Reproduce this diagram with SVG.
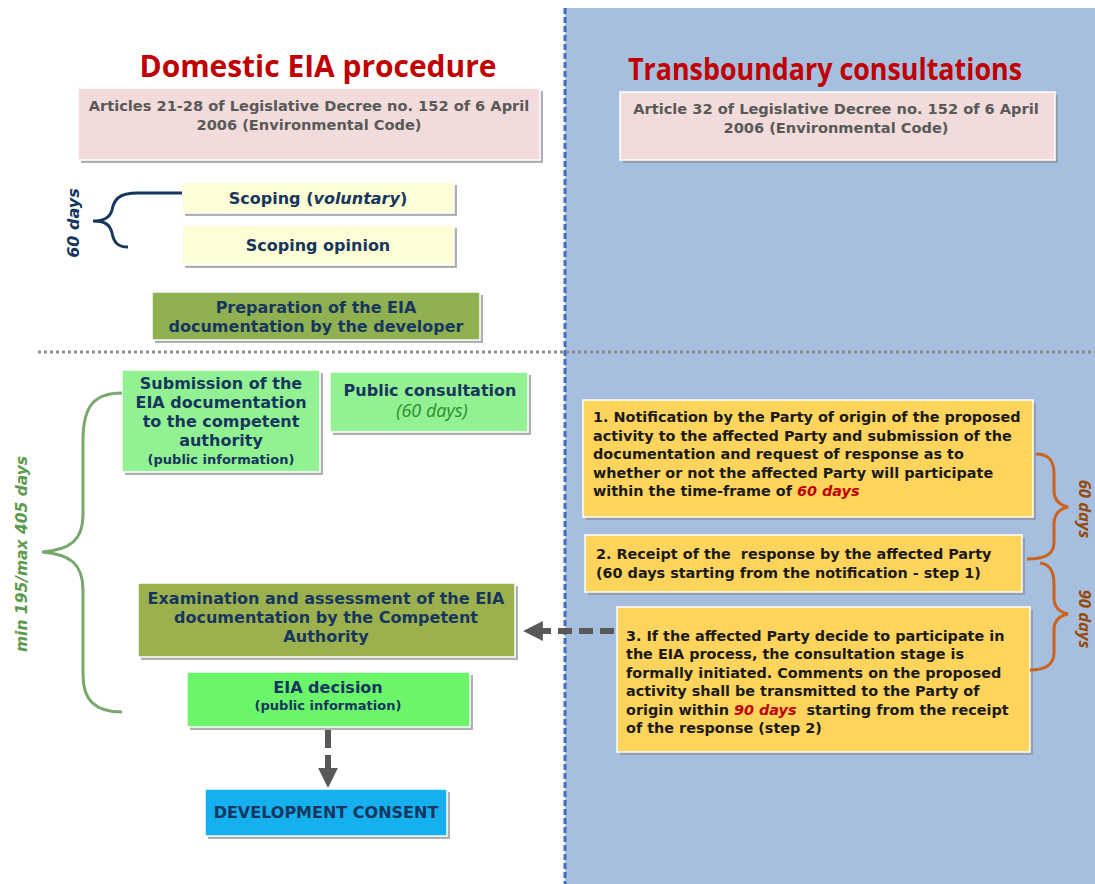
<svg xmlns="http://www.w3.org/2000/svg" width="1095" height="884" viewBox="0 0 1095 884">
<style>
.t{font-family:"DejaVu Sans","Verdana",sans-serif;font-weight:bold;fill:#17365d;text-anchor:middle}
.g{fill:#595959}
.s{font-size:13px}
.b{font-size:16px}
.title{font-family:"Open Sans","Liberation Sans",sans-serif;font-weight:bold;fill:#c00000;font-size:31px;text-anchor:middle}
.sh{fill:#8a8f96;opacity:0.7}
.box{stroke:#ffffff;stroke-width:1.5}
.lt{font-family:"DejaVu Sans","Verdana",sans-serif;font-weight:bold;fill:#1a1a1a;font-size:14.4px}
.red{fill:#c00000;font-style:italic}
.rd{font-family:"Open Sans","Liberation Sans",sans-serif;font-weight:bold;font-style:italic;font-size:16.5px;fill:#984807;text-anchor:middle}
</style>
<defs>
<marker id="ah" viewBox="0 0 10 10" refX="5" refY="5" markerWidth="3.3" markerHeight="3.3" orient="auto">
<path d="M0,0 L10,5 L0,10 z" fill="#595959"/>
</marker>
</defs>
<rect x="0" y="0" width="1095" height="884" fill="#ffffff"/>
<g id="panel">
<rect x="565" y="8" width="530" height="876" fill="#a7bfde"/>
<line x1="565" y1="8" x2="565" y2="884" stroke="#3b6fc2" stroke-width="3" stroke-dasharray="6,3"/>
</g>
<line x1="38" y1="352" x2="1095" y2="352" stroke="#8c8c8c" stroke-width="3" stroke-dasharray="3,3"/>

<text class="title" x="318" y="77" textLength="357" lengthAdjust="spacingAndGlyphs">Domestic EIA procedure</text>
<text class="title" x="825" y="80" textLength="394" lengthAdjust="spacingAndGlyphs">Transboundary consultations</text>

<g id="law-left">
<rect class="sh" x="81" y="91" width="462" height="72"/>
<rect class="box" x="78" y="88" width="462" height="72" fill="#f2dcdb"/>
<text class="t g" font-size="14.6" x="309" y="111">Articles 21-28 of Legislative Decree no. 152 of 6 April</text>
<text class="t g" font-size="14.6" x="309" y="130">2006 (Environmental Code)</text>
</g>
<g id="law-right">
<rect class="sh" x="623" y="95" width="435" height="68"/>
<rect class="box" x="620" y="92" width="435" height="68" fill="#f2dcdb"/>
<text class="t g" font-size="14.6" x="836" y="114">Article 32 of Legislative Decree no. 152 of 6 April</text>
<text class="t g" font-size="14.6" x="836" y="133">2006 (Environmental Code)</text>
</g>

<g id="scoping">
<rect class="sh" x="185" y="185" width="272" height="31"/>
<rect class="box" x="182" y="182" width="272" height="31" fill="#fdfdd6"/>
<text class="t b" x="318" y="204">Scoping (<tspan font-style="italic">voluntary</tspan>)</text>
</g>
<g id="scoping-opinion">
<rect class="sh" x="185" y="228" width="272" height="40"/>
<rect class="box" x="182" y="225" width="272" height="40" fill="#fdfdd6"/>
<text class="t b" x="318" y="251">Scoping opinion</text>
</g>
<g id="brace-60">
<path d="M182,193 L138,193 C118,193 114,200 112,210 C110,218 104,221 93,221 C104,221 110,224 112,233 C114,243 118,247 128,247" fill="none" stroke="#17365d" stroke-width="3"/>
<text class="t b" font-style="italic" transform="translate(79,223) rotate(-90)">60 days</text>
</g>

<g id="preparation">
<rect class="sh" x="155" y="295" width="328" height="48"/>
<rect class="box" x="152" y="292" width="328" height="48" fill="#8fb152"/>
<text class="t b" x="316" y="313">Preparation of the EIA</text>
<text class="t b" x="316" y="332">documentation by the developer</text>
</g>

<g id="submission">
<rect class="sh" x="125" y="373" width="198" height="102"/>
<rect class="box" x="122" y="370" width="198" height="102" fill="#92f192"/>
<text class="t b" x="221" y="389">Submission of the</text>
<text class="t b" x="221" y="408">EIA documentation</text>
<text class="t b" x="221" y="427">to the competent</text>
<text class="t b" x="221" y="446">authority</text>
<text class="t s" x="221" y="464">(public information)</text>
</g>
<g id="public-consultation">
<rect class="sh" x="333" y="375" width="198" height="60"/>
<rect class="box" x="330" y="372" width="198" height="60" fill="#92f192"/>
<text class="t b" x="430" y="396">Public consultation</text>
<text x="432" y="417" font-family="Open Sans, Liberation Sans, sans-serif" font-style="italic" font-size="18" fill="#2e8b2e" text-anchor="middle">(60 days)</text>
</g>

<g id="brace-min-max">
<path d="M122,393 C95,393 83,405 83,440 L83,515 C83,540 70,550 42,552 C70,554 83,564 83,590 L83,675 C83,700 95,712 122,712" fill="none" stroke="#78a86e" stroke-width="3"/>
<text transform="translate(27,554) rotate(-90)" font-family="DejaVu Sans, Verdana, sans-serif" font-weight="bold" font-style="italic" font-size="15.5" fill="#5c9a4c" text-anchor="middle">min 195/max 405 days</text>
</g>

<g id="examination">
<rect class="sh" x="141" y="586" width="377" height="74"/>
<rect class="box" x="138" y="583" width="377" height="74" fill="#9db04e"/>
<text class="t b" x="326" y="604">Examination and assessment of the EIA</text>
<text class="t b" x="326" y="623">documentation by the Competent</text>
<text class="t b" x="326" y="642">Authority</text>
</g>

<g id="eia-decision">
<rect class="sh" x="190" y="675" width="283" height="55"/>
<rect class="box" x="187" y="672" width="283" height="55" fill="#6af56a"/>
<text class="t b" x="328" y="693">EIA decision</text>
<text class="t s" x="328" y="710">(public information)</text>
</g>

<g id="development-consent">
<rect class="sh" x="208" y="792" width="242" height="47"/>
<rect class="box" x="205" y="789" width="242" height="47" fill="#16b0ee"/>
<text class="t b" x="326" y="818">DEVELOPMENT CONSENT</text>
</g>

<g id="step1">
<rect class="sh" x="586" y="403" width="450" height="117"/>
<rect class="box" x="583" y="400" width="450" height="117" fill="#fed45d"/>
<text class="lt" x="593" y="422">1. Notification by the Party of origin of the proposed</text>
<text class="lt" x="593" y="441">activity to the affected Party and submission of the</text>
<text class="lt" x="593" y="459">documentation and request of response as to</text>
<text class="lt" x="593" y="478">whether or not the affected Party will participate</text>
<text class="lt" x="593" y="496">within the time-frame of <tspan class="red">60 days</tspan></text>
</g>
<g id="step2">
<rect class="sh" x="588" y="538" width="437" height="57"/>
<rect class="box" x="585" y="535" width="437" height="57" fill="#fed45d"/>
<text class="lt" x="596" y="559" xml:space="preserve">2. Receipt of the  response by the affected Party</text>
<text class="lt" x="596" y="578">(60 days starting from the notification - step 1)</text>
</g>
<g id="step3">
<rect class="sh" x="620" y="610" width="413" height="145"/>
<rect class="box" x="617" y="607" width="413" height="145" fill="#fed45d"/>
<text class="lt" x="626" y="641">3. If the affected Party decide to participate in</text>
<text class="lt" x="626" y="659">the EIA process, the consultation stage is</text>
<text class="lt" x="626" y="678">formally initiated. Comments on the proposed</text>
<text class="lt" x="626" y="696">activity shall be transmitted to the Party of</text>
<text class="lt" x="626" y="715" xml:space="preserve">origin within <tspan class="red">90 days</tspan>  starting from the receipt</text>
<text class="lt" x="626" y="733">of the response (step 2)</text>
</g>

<g id="brace-right">
<path d="M1036,454 C1049,454 1054,461 1054,474 L1054,490 C1054,500 1059,505 1068,507 C1059,509 1054,514 1054,524 L1054,542 C1054,554 1046,559 1027,559" fill="none" stroke="#c9631f" stroke-width="3"/>
<path d="M1040,563 C1050,564 1054,571 1054,584 L1054,598 C1054,607 1059,612 1068,614 C1059,616 1054,621 1054,630 L1054,652 C1054,664 1047,670 1030,670" fill="none" stroke="#c9631f" stroke-width="3"/>
<text class="rd" transform="translate(1079,509) rotate(90)">60 days</text>
<text class="rd" transform="translate(1079,619) rotate(90)">90 days</text>
</g>

<g id="connectors">
<line x1="614" y1="631" x2="533" y2="631" stroke="#595959" stroke-width="6" stroke-dasharray="14,7" marker-end="url(#ah)"/>
<line x1="328" y1="730" x2="328" y2="778" stroke="#595959" stroke-width="6" stroke-dasharray="18,7" marker-end="url(#ah)"/>
</g>
</svg>
